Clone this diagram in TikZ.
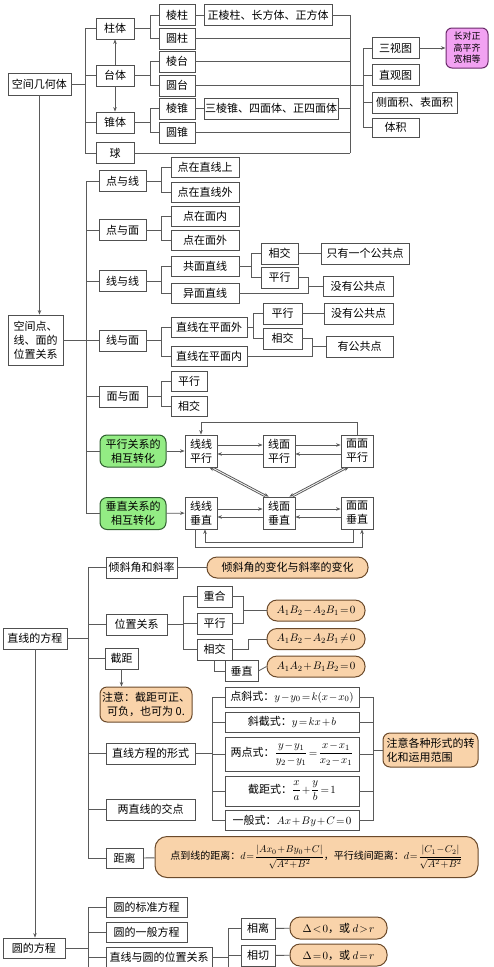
\documentclass[tikz,border=0pt]{standalone}
\usepackage{amsmath}
\usepackage{fontspec}
\newfontfamily\cjk{Noto Sans CJK SC}
\usetikzlibrary{arrows.meta}
\newcommand\tightmath{\medmuskip=1.5mu\relax\thickmuskip=2mu\relax}
\newcommand\tightermath{\medmuskip=1mu\relax\thickmuskip=1.5mu\relax}
\definecolor{boxc}{HTML}{505050}
\definecolor{linec}{HTML}{5A5A5A}
\definecolor{peach}{HTML}{F9D3AA}
\definecolor{brownc}{HTML}{6B4A2B}
\definecolor{lightgreen}{HTML}{93EC84}
\definecolor{greenc}{HTML}{2F5F2F}
\definecolor{pinkc}{HTML}{F2A2F2}
\definecolor{purplec}{HTML}{6A2A6A}
\tikzset{
  box/.style={draw=boxc, fill=white, line width=0.8pt, inner sep=0pt, minimum height=21pt, font=\cjk\fontsize{11}{14}\selectfont\tightmath},
  notebox/.style={box, draw=brownc, fill=peach, rounded corners=10pt, line width=1pt},
  greenbox/.style={box, draw=greenc, fill=lightgreen, rounded corners=7pt, line width=1pt, align=center, minimum width=66pt, minimum height=32pt},
  pinkbox/.style={box, draw=purplec, fill=pinkc, rounded corners=6pt, line width=1pt, align=center, font=\cjk\fontsize{9}{11.5}\selectfont},
  tbox/.style={box, align=center, minimum width=32pt, minimum height=32pt},
  link/.style={draw=linec, line width=0.8pt},
  arr/.style={link, -{Stealth[length=4.5pt,width=3.5pt]}},
}
\begin{document}
\begin{tikzpicture}[x=1pt, y=-1pt]
  \fill[white] (0,0) rectangle (493,967);
  \useasboundingbox (0,0) rectangle (493,967);

  \node[box, minimum width=63pt, minimum height=22pt] (kjjht) at (39.5,84) {空间几何体};
  \node[box, minimum width=38pt] (zt) at (115,28.5) {柱体};
  \node[box, minimum width=38pt] (tt) at (115,75.5) {台体};
  \node[box, minimum width=38pt] (zhui) at (115,122.5) {锥体};
  \node[box, minimum width=38pt] (qiu) at (115,153) {球};
  \node[box, minimum width=36pt] (lz) at (177,15) {棱柱};
  \node[box, minimum width=36pt] (yz) at (177,38.5) {圆柱};
  \node[box, minimum width=36pt] (lt) at (177,61.5) {棱台};
  \node[box, minimum width=36pt] (yt) at (177,85.5) {圆台};
  \node[box, minimum width=36pt] (lzh) at (177,108.5) {棱锥};
  \node[box, minimum width=36pt] (yzh) at (177,132.5) {圆锥};
  \node[box, minimum width=128pt] (zlz) at (268,15) {正棱柱、长方体、正方体};
  \node[box, minimum width=134pt] (slz) at (271,108.5) {三棱锥、四面体、正四面体};
  \node[box, minimum width=47pt] (sst) at (395.5,48) {三视图};
  \node[box, minimum width=47pt] (zgt) at (395.5,75) {直观图};
  \node[box, minimum width=85pt] (mj) at (414.5,102.5) {侧面积、表面积};
  \node[box, minimum width=47pt, minimum height=19pt] (tj) at (395.5,127.5) {体积};
  \node[pinkbox, minimum width=42pt, minimum height=40pt] (czz) at (467,48) {长对正\\高平齐\\宽相等};

  \coordinate (a1) at (85,0);
  \coordinate (a2) at (150,0);
  \coordinate (a3) at (350,0);
  \coordinate (a4) at (363,0);

  \draw[link] (kjjht.east) -- (kjjht.east -| a1) |- (zt.west);
  \draw[link] (kjjht.east) -- (kjjht.east -| a1) |- (tt.west);
  \draw[link] (kjjht.east) -- (kjjht.east -| a1) |- (zhui.west);
  \draw[link] (kjjht.east) -- (kjjht.east -| a1) |- (qiu.west);
  \draw[arr] (tt.north) -- (zt.south);
  \draw[arr] (tt.south) -- (zhui.north);
  \draw[link] (zt.east) -- (zt.east -| a2) |- (lz.west);
  \draw[link] (zt.east) -- (zt.east -| a2) |- (yz.west);
  \draw[link] (tt.east) -- (tt.east -| a2) |- (lt.west);
  \draw[link] (tt.east) -- (tt.east -| a2) |- (yt.west);
  \draw[link] (zhui.east) -- (zhui.east -| a2) |- (lzh.west);
  \draw[link] (zhui.east) -- (zhui.east -| a2) |- (yzh.west);
  \draw[link] (lz) -- (zlz);
  \draw[link] (lzh) -- (slz);
  \draw[link] (zlz.east) -- (zlz.east -| a3) -- (qiu.east -| a3);
  \draw[link] (yz.east) -- (yz.east -| a3);
  \draw[link] (lt.east) -- (lt.east -| a3);
  \draw[link] (slz.east) -- (slz.east -| a3);
  \draw[link] (yzh.east) -- (yzh.east -| a3);
  \draw[link] (qiu.east) -- (qiu.east -| a3);
  \draw[link] (yt.east) -- (yt.east -| a4) |- (sst.west);
  \draw[link] (yt.east) -- (yt.east -| a4) |- (zgt.west);
  \draw[link] (yt.east) -- (yt.east -| a4) |- (mj.west);
  \draw[link] (yt.east) -- (yt.east -| a4) |- (tj.west);
  \draw[arr] (sst) -- (czz);

  \node[box, minimum width=55pt, minimum height=50pt, align=left] (kjd) at (35.5,340) {空间点、\\线、面的\\位置关系};
  \draw[arr] (kjjht.south) -- (kjjht.south |- kjd.north);
  \node[box, minimum width=47pt] (dyx) at (122.5,181) {点与线};
  \node[box, minimum width=47pt] (dym) at (122.5,230) {点与面};
  \node[box, minimum width=47pt] (xyx) at (122.5,281) {线与线};
  \node[box, minimum width=47pt] (xym) at (122.5,340.5) {线与面};
  \node[box, minimum width=48pt] (mym) at (123,396.5) {面与面};
  \node[greenbox] (pxzh) at (133,451) {平行关系的\\相互转化};
  \node[greenbox] (czzh) at (133,513.5) {垂直关系的\\相互转化};
  \node[box, minimum width=68pt, minimum height=20pt] (dzzxs) at (205,167) {点在直线上};
  \node[box, minimum width=68pt, minimum height=20pt] (dzzxw) at (205,192) {点在直线外};
  \node[box, minimum width=68pt, minimum height=20pt] (dzmn) at (205,216) {点在面内};
  \node[box, minimum width=68pt, minimum height=20pt] (dzmw) at (205,240) {点在面外};
  \node[box, minimum width=68pt, minimum height=20pt] (gmzx) at (205,266) {共面直线};
  \node[box, minimum width=68pt, minimum height=20pt] (ymzx) at (205,293) {异面直线};
  \node[box, minimum width=76pt, minimum height=20pt] (zxwai) at (209,327.5) {直线在平面外};
  \node[box, minimum width=76pt, minimum height=20pt] (zxnei) at (209,356) {直线在平面内};
  \node[box, minimum width=36pt, minimum height=20pt] (mpx) at (189,381) {平行};
  \node[box, minimum width=36pt, minimum height=20pt] (mxj) at (189,406) {相交};
  \node[box, minimum width=37pt] (xj1) at (279.5,253.5) {相交};
  \node[box, minimum width=37pt] (px1) at (279.5,277.5) {平行};
  \node[box, minimum width=88pt] (zygg) at (365,253.5) {只有一个公共点};
  \node[box, minimum width=70pt, minimum height=20pt] (mygg1) at (358,286) {没有公共点};
  \node[box, minimum width=39pt] (px2) at (282.5,313.5) {平行};
  \node[box, minimum width=39pt] (xj2) at (282.5,338.5) {相交};
  \node[box, minimum width=69pt] (mygg2) at (358.5,313.5) {没有公共点};
  \node[box, minimum width=67pt] (ygg) at (359.5,346.5) {有公共点};

  \coordinate (b1) at (86,0);
  \coordinate (b2) at (161,0);
  \coordinate (c1) at (251,0);
  \coordinate (c2) at (308,286);
  \coordinate (c3) at (253,0);
  \coordinate (c4) at (312,346.5);

  \draw[link] (kjd.east) -- (kjd.east -| b1) |- (dyx.west);
  \draw[link] (kjd.east) -- (kjd.east -| b1) |- (dym.west);
  \draw[link] (kjd.east) -- (kjd.east -| b1) |- (xyx.west);
  \draw[link] (kjd.east) -- (kjd.east -| b1) |- (xym.west);
  \draw[link] (kjd.east) -- (kjd.east -| b1) |- (mym.west);
  \draw[link] (kjd.east) -- (kjd.east -| b1) |- (pxzh.west);
  \draw[link] (kjd.east) -- (kjd.east -| b1) |- (czzh.west);
  \draw[link] (dyx.east) -- (dyx.east -| b2) |- (dzzxs.west);
  \draw[link] (dyx.east) -- (dyx.east -| b2) |- (dzzxw.west);
  \draw[link] (dym.east) -- (dym.east -| b2) |- (dzmn.west);
  \draw[link] (dym.east) -- (dym.east -| b2) |- (dzmw.west);
  \draw[link] (xyx.east) -- (xyx.east -| b2) |- (gmzx.west);
  \draw[link] (xyx.east) -- (xyx.east -| b2) |- (ymzx.west);
  \draw[link] (xym.east) -- (xym.east -| b2) |- (zxwai.west);
  \draw[link] (xym.east) -- (xym.east -| b2) |- (zxnei.west);
  \draw[link] (mym.east) -- (mym.east -| b2) |- (mpx.west);
  \draw[link] (mym.east) -- (mym.east -| b2) |- (mxj.west);
  \draw[link] (gmzx.east) -- (gmzx.east -| c1) |- (xj1.west);
  \draw[link] (gmzx.east) -- (gmzx.east -| c1) |- (px1.west);
  \draw[link] (xj1) -- (zygg);
  \draw[link] (px1.east) -| (c2);
  \draw[link] (ymzx.east) -| (c2);
  \draw[link] (c2) -- (mygg1.west);
  \draw[link] (zxwai.east) -- (zxwai.east -| c3) |- (px2.west);
  \draw[link] (zxwai.east) -- (zxwai.east -| c3) |- (xj2.west);
  \draw[link] (px2) -- (mygg2);
  \draw[link] (xj2.east) -| (c4);
  \draw[link] (zxnei.east) -| (c4);
  \draw[link] (c4) -- (ygg.west);

  \node[tbox] (xxpx) at (201,451) {线线\\平行};
  \node[tbox] (xmpx) at (279,451) {线面\\平行};
  \node[tbox] (mmpx) at (357,451) {面面\\平行};
  \node[tbox] (xxcz) at (201,513) {线线\\垂直};
  \node[tbox] (xmcz) at (279,513) {线面\\垂直};
  \node[tbox] (mmcz) at (357,513) {面面\\垂直};
  \coordinate (ptop) at (201,422);
  \coordinate (pbot1) at (195,547);
  \coordinate (pbot2) at (205,542);

  \draw[arr] (pxzh) -- (xxpx);
  \draw[arr] (czzh) -- (xxcz);
  \draw[arr] ([yshift=6pt]xxpx.east) -- ([yshift=6pt]xmpx.west);
  \draw[arr] ([yshift=-3pt]xmpx.west) -- ([yshift=-3pt]xxpx.east);
  \draw[arr] ([yshift=6pt]xmpx.east) -- ([yshift=6pt]mmpx.west);
  \draw[arr] ([yshift=-3pt]mmpx.west) -- ([yshift=-3pt]xmpx.east);
  \draw[arr] ([yshift=4pt]xxcz.east) -- ([yshift=4pt]xmcz.west);
  \draw[arr] ([yshift=-4pt]xmcz.west) -- ([yshift=-4pt]xxcz.east);
  \draw[arr] ([yshift=4pt]xmcz.east) -- ([yshift=4pt]mmcz.west);
  \draw[arr] ([yshift=-4pt]mmcz.west) -- ([yshift=-4pt]xmcz.east);
  \draw[arr] (mmpx.north) |- (ptop) -- (xxpx.north);
  \draw[arr] ([xshift=-4pt]xxpx.south east) -- ([xshift=6pt]xmcz.north west);
  \draw[arr] ([xshift=2pt]xmcz.north west) -- ([xshift=-8pt]xxpx.south east);
  \draw[arr] ([xshift=4pt]mmpx.south west) -- ([xshift=-6pt]xmcz.north east);
  \draw[arr] ([xshift=-2pt]xmcz.north east) -- ([xshift=8pt]mmpx.south west);
  \draw[arr] (xxcz.south -| pbot1) |- (pbot1) -| ([xshift=5pt]mmcz.south);
  \draw[arr] ([xshift=-4pt]mmcz.south) |- (pbot2) -- (xxcz.south -| pbot2);

  \node[box, minimum width=64pt] (zxfc) at (35,638.5) {直线的方程};
  \node[box, minimum width=71pt] (qxj) at (141.5,567.5) {倾斜角和斜率};
  \node[notebox, minimum width=161pt] (qxjbh) at (287.5,567.5) {倾斜角的变化与斜率的变化};
  \node[box, minimum width=61pt] (wzgx) at (136.5,624.5) {位置关系};
  \node[box, minimum width=33pt] (jj) at (121.5,658.5) {截距};
  \node[notebox, minimum width=92pt, minimum height=35pt, align=center, rounded corners=7pt] (zy) at (146,704.5) {注意：截距可正、\\可负，也可为 0.};
  \node[box, minimum width=89pt] (zxfcxs) at (150.5,753.5) {直线方程的形式};
  \node[box, minimum width=89pt] (ljd) at (150.5,809.5) {两直线的交点};
  \node[box, minimum width=37pt, minimum height=20pt] (jl) at (124.5,858) {距离};
  \node[notebox, minimum width=323pt, minimum height=41pt, rounded corners=12pt, font=\cjk\fontsize{10}{13}\selectfont\tightermath] (jlnote) at (316.5,857) {点到线的距离：$d=\dfrac{|Ax_0+By_0+C|}{\sqrt{A^2+B^2}}$，平行线间距离：$d=\dfrac{|C_1-C_2|}{\sqrt{A^2+B^2}}$};
  \node[box, minimum width=35pt] (ch) at (214.5,596.5) {重合};
  \node[box, minimum width=35pt] (px3) at (214.5,623.5) {平行};
  \node[box, minimum width=35pt] (xj3) at (214.5,649.5) {相交};
  \node[box, minimum width=33pt] (cz) at (241.5,671) {垂直};
  \node[notebox, minimum width=98pt] (eq1) at (316,610.5) {$A_1B_2-A_2B_1=0$};
  \node[notebox, minimum width=98pt] (eq2) at (316,639) {$A_1B_2-A_2B_1\neq0$};
  \node[notebox, minimum width=98pt] (eq3) at (316,666.5) {$A_1A_2+B_1B_2=0$};
  \node[box, minimum width=134pt, minimum height=20pt] (dxs) at (292,697) {点斜式：$y-y_0=k(x-x_0)$};
  \node[box, minimum width=134pt, minimum height=20pt] (xjs) at (292,722) {斜截式：$y=kx+b$};
  \node[box, minimum width=134pt, minimum height=34pt] (ldsx) at (292,754) {两点式：$\dfrac{y-y_1}{y_2-y_1}=\dfrac{x-x_1}{x_2-x_1}$};
  \node[box, minimum width=134pt, minimum height=30pt] (jjs) at (292,791) {截距式：$\dfrac{x}{a}+\dfrac{y}{b}=1$};
  \node[box, minimum width=134pt, minimum height=20pt] (ybs) at (292,820.5) {一般式：$Ax+By+C=0$};
  \node[notebox, minimum width=95pt, minimum height=34pt, align=left, rounded corners=7pt] (zygz) at (430.5,750) {注意各种形式的转\\化和运用范围};

  \coordinate (d1) at (88,0);
  \coordinate (d2) at (183,0);
  \coordinate (d3) at (212,0);
  \coordinate (m1) at (243,610.5);
  \coordinate (m2) at (248,639);
  \coordinate (m3) at (373,750);

  \draw[link] (zxfc.east) -- (zxfc.east -| d1) |- (qxj.west);
  \draw[link] (zxfc.east) -- (zxfc.east -| d1) |- (wzgx.west);
  \draw[link] (zxfc.east) -- (zxfc.east -| d1) |- (jj.west);
  \draw[link] (zxfc.east) -- (zxfc.east -| d1) |- (zxfcxs.west);
  \draw[link] (zxfc.east) -- (zxfc.east -| d1) |- (ljd.west);
  \draw[link] (zxfc.east) -- (zxfc.east -| d1) |- (jl.west);
  \draw[link] (qxj) -- (qxjbh);
  \draw[link] (jl) -- (jlnote);
  \draw[arr] (jj.south) -- (jj.south |- zy.north);
  \draw[link] (wzgx.east) -- (wzgx.east -| d2) |- (ch.west);
  \draw[link] (wzgx.east) -- (wzgx.east -| d2) |- (px3.west);
  \draw[link] (wzgx.east) -- (wzgx.east -| d2) |- (xj3.west);
  \draw[link] (ch.east) -| (m1);
  \draw[link] (px3.east) -| (m1);
  \draw[link] (m1) -- (eq1.west);
  \draw[link] (xj3.east) -| (m2) -- (eq2.west);
  \draw[link] (xj3.south) |- (cz.west);
  \draw[link] (cz.east) -- (eq3.west);
  \draw[link] (zxfcxs.east) -- (zxfcxs.east -| d3) |- (dxs.west);
  \draw[link] (zxfcxs.east) -- (zxfcxs.east -| d3) |- (xjs.west);
  \draw[link] (zxfcxs.east) -- (zxfcxs.east -| d3) |- (ldsx.west);
  \draw[link] (zxfcxs.east) -- (zxfcxs.east -| d3) |- (jjs.west);
  \draw[link] (zxfcxs.east) -- (zxfcxs.east -| d3) |- (ybs.west);
  \draw[link] (dxs.east) -| (m3);
  \draw[link] (xjs.east) -| (m3);
  \draw[link] (ldsx.east) -| (m3);
  \draw[link] (jjs.east) -| (m3);
  \draw[link] (ybs.east) -| (m3);
  \draw[link] (m3) -- (zygz.west);

  \node[box, minimum width=62pt, minimum height=20pt] (yfc) at (34,948) {圆的方程};
  \draw[arr] (zxfc.south) -- (zxfc.south |- yfc.north);
  \node[box, minimum width=81pt, minimum height=20pt] (bzfc) at (146.5,907) {圆的标准方程};
  \node[box, minimum width=81pt, minimum height=20pt] (ybfc) at (146.5,932) {圆的一般方程};
  \node[box, minimum width=106pt, minimum height=21pt] (wzgx2) at (159,957.5) {直线与圆的位置关系};
  \node[box, minimum width=34pt] (xl) at (258,928.5) {相离};
  \node[box, minimum width=34pt] (xq) at (258,955.5) {相切};
  \node[notebox, minimum width=97pt, minimum height=22pt] (ineq1) at (338.5,928) {$\Delta<0$，或 $d>r$};
  \node[notebox, minimum width=97pt, minimum height=22pt] (ineq2) at (338.5,955) {$\Delta=0$，或 $d=r$};

  \coordinate (e1) at (88,967);
  \coordinate (e2) at (228,0);
  \coordinate (e3) at (228,967);

  \draw[link] (yfc.east) -- (yfc.east -| e1) |- (bzfc.west);
  \draw[link] (yfc.east) -- (yfc.east -| e1) |- (ybfc.west);
  \draw[link] (yfc.east) -- (yfc.east -| e1) |- (wzgx2.west);
  \draw[link] (bzfc.west -| e1) -- (e1);
  \draw[link] (wzgx2.east) -- (wzgx2.east -| e2) |- (xl.west);
  \draw[link] (wzgx2.east) -- (wzgx2.east -| e2) |- (xq.west);
  \draw[link] (xl.west -| e2) -- (e3);
  \draw[link] (xl) -- (ineq1);
  \draw[link] (xq) -- (ineq2);
\end{tikzpicture}
\end{document}
